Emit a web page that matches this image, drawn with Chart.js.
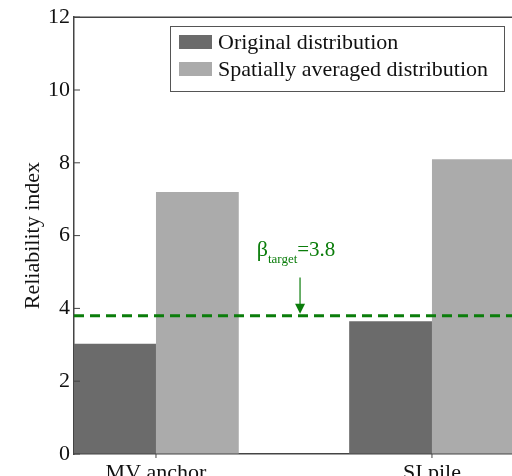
<!DOCTYPE html>
<html>
<head>
<meta charset="utf-8">
<script src="https://cdn.jsdelivr.net/npm/chart.js@4.4.1/dist/chart.umd.min.js"></script>
<style>
    html, body { margin: 0; padding: 0; overflow: hidden; background: #fff; }
    #wrap { width: 512px; height: 492px; }
</style>
</head>
<body>
<div id="wrap"><canvas id="reliabilityChart" width="512" height="492"></canvas></div>
<script>
// chart values
const categories = ['MV anchor', 'SI pile'];
const originalValues = [3.03, 3.65];
const averagedValues = [7.2, 8.1];
const yTicks = [0, 2, 4, 6, 8, 10, 12];
const targetBeta = 3.8;

const FONT = "'Liberation Serif', 'DejaVu Serif', serif";
const GREEN = '#0b7d0b';
const AXIS = '#444';

// frame, inward ticks, target line, annotation and legend
const overlayPlugin = {
    id: 'overlay',
    afterDatasetsDraw(chart) {
        const { ctx, chartArea, scales } = chart;
        const x = scales.x, y = scales.y;
        ctx.save();

        // top border
        ctx.strokeStyle = AXIS;
        ctx.lineWidth = 1.5;
        ctx.beginPath();
        ctx.moveTo(chartArea.left, chartArea.top);
        ctx.lineTo(chartArea.right + 2, chartArea.top);
        ctx.stroke();

        // inward tick marks
        ctx.lineWidth = 1;
        yTicks.forEach(v => {
            const py = y.getPixelForValue(v);
            ctx.beginPath();
            ctx.moveTo(chartArea.left, py);
            ctx.lineTo(chartArea.left + 6, py);
            ctx.stroke();
        });
        categories.forEach((c, i) => {
            const px = x.getPixelForValue(i + 1);
            ctx.beginPath();
            ctx.moveTo(px, chartArea.bottom);
            ctx.lineTo(px, chartArea.bottom + 4);
            ctx.stroke();
        });

        // target line
        const ty = y.getPixelForValue(targetBeta);
        ctx.strokeStyle = GREEN;
        ctx.lineWidth = 3;
        ctx.setLineDash([10, 6]);
        ctx.beginPath();
        ctx.moveTo(chartArea.left, ty);
        ctx.lineTo(chartArea.right + 2, ty);
        ctx.stroke();
        ctx.setLineDash([]);

        // arrow + label
        const ax = x.getPixelForValue(1.522);
        const aTop = y.getPixelForValue(4.85);
        ctx.lineWidth = 1.2;
        ctx.beginPath();
        ctx.moveTo(ax, aTop);
        ctx.lineTo(ax, ty - 8);
        ctx.stroke();
        ctx.fillStyle = GREEN;
        ctx.beginPath();
        ctx.moveTo(ax - 5, ty - 12);
        ctx.lineTo(ax + 5, ty - 12);
        ctx.lineTo(ax, ty - 2);
        ctx.closePath();
        ctx.fill();

        const lx = x.getPixelForValue(1.365);
        const ly = y.getPixelForValue(5.45);
        ctx.textBaseline = 'alphabetic';
        ctx.textAlign = 'left';
        ctx.font = '22px ' + FONT;
        ctx.fillText('β', lx, ly);
        let w = ctx.measureText('β').width;
        ctx.font = '13px ' + FONT;
        ctx.fillText('target', lx + w, ly + 7);
        w += ctx.measureText('target').width;
        ctx.font = '21px ' + FONT;
        ctx.fillText('=3.8', lx + w, ly);

        // legend
        const bx = 170, by = 26, bw = 334, bh = 65;
        ctx.fillStyle = '#fff';
        ctx.fillRect(bx, by, bw, bh);
        ctx.strokeStyle = '#555';
        ctx.lineWidth = 1;
        ctx.strokeRect(bx + 0.5, by + 0.5, bw, bh);
        chart.data.datasets.forEach((ds, i) => {
            const ry = by + 16 + i * 27;
            ctx.fillStyle = ds.backgroundColor;
            ctx.fillRect(bx + 9, ry - 7, 33, 14);
            ctx.fillStyle = '#111';
            ctx.font = '22px ' + FONT;
            ctx.textBaseline = 'middle';
            ctx.fillText(ds.label, bx + 48, ry + 1);
        });

        ctx.restore();
    }
};

new Chart(document.getElementById('reliabilityChart'), {
    type: 'bar',
    data: {
        datasets: [
            {
                label: 'Original distribution',
                data: originalValues.map((v, i) => ({ x: i + 1, y: v })),
                backgroundColor: '#6b6b6b',
                borderWidth: 0,
                categoryPercentage: 0.6,
                barPercentage: 1.0
            },
            {
                label: 'Spatially averaged distribution',
                data: averagedValues.map((v, i) => ({ x: i + 1, y: v })),
                backgroundColor: '#ababab',
                borderWidth: 0,
                categoryPercentage: 0.6,
                barPercentage: 1.0
            }
        ]
    },
    options: {
        responsive: false,
        animation: false,
        devicePixelRatio: 1,
        layout: { padding: { top: 17, right: 0, left: 0, bottom: 0 } },
        plugins: {
            legend: { display: false },
            tooltip: { enabled: false }
        },
        scales: {
            x: {
                type: 'linear',
                offset: false,
                min: 0.703,
                max: 2.29,
                afterBuildTicks: scale => {
                    scale.ticks = categories.map((c, i) => ({ value: i + 1 }));
                },
                afterFit: scale => { scale.height = 38; },
                ticks: {
                    autoSkip: false,
                    maxRotation: 0,
                    padding: -2,
                    color: '#111',
                    font: { family: FONT, size: 22 },
                    callback: value => categories[Math.round(value) - 1]
                },
                grid: { display: false, offset: false },
                border: { display: true, color: AXIS, width: 1.5 }
            },
            y: {
                min: 0,
                max: 12,
                afterBuildTicks: scale => {
                    scale.ticks = yTicks.map(v => ({ value: v }));
                },
                afterFit: scale => { scale.width = 74; },
                ticks: {
                    padding: 4,
                    color: '#111',
                    font: { family: FONT, size: 22 }
                },
                grid: { display: true, drawOnChartArea: false, drawTicks: false },
                border: { display: true, color: AXIS, width: 1.5 },
                title: {
                    display: true,
                    text: 'Reliability index',
                    color: '#111',
                    font: { family: FONT, size: 22 },
                    padding: { top: 20, bottom: 0 }
                }
            }
        }
    },
    plugins: [overlayPlugin]
});
</script>
</body>
</html>
